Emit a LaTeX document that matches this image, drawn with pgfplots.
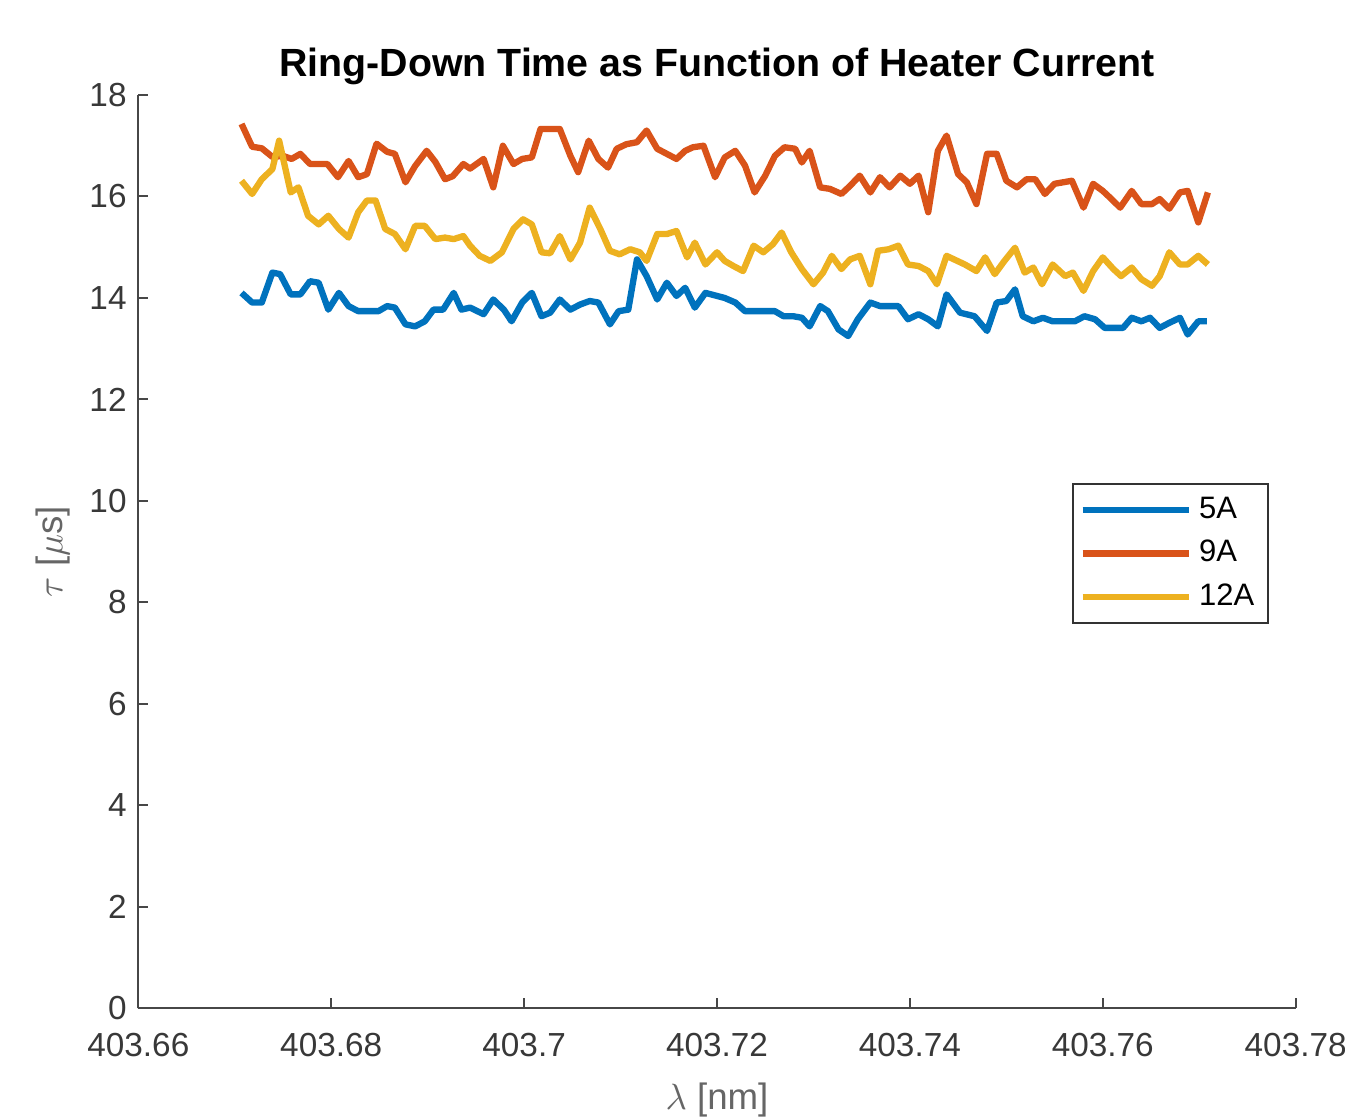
\documentclass[border=0pt]{standalone}
\usepackage{pgfplots}
\pgfplotsset{compat=1.18}
\usepackage{fontspec}
\setmainfont{Liberation Sans}
\definecolor{cA}{rgb}{0,0.447,0.741}
\definecolor{cB}{rgb}{0.85,0.325,0.098}
\definecolor{cC}{rgb}{0.929,0.694,0.125}
\definecolor{axgray}{gray}{0.28}
\begin{document}
\begin{tikzpicture}
\useasboundingbox (-41.5pt,-32.6pt) rectangle (362pt,302.5pt);
\begin{axis}[
  scale only axis, width=347.2pt, height=274pt,
  xmin=403.66, xmax=403.78, ymin=0, ymax=18,
  axis x line=bottom, axis y line=left,
  axis line style={-, axgray, line width=0.6pt},
  tick align=inside, major tick length=3pt,
  tick style={axgray, line width=0.6pt},
  xtick={403.66,403.68,403.70,403.72,403.74,403.76,403.78},
  xticklabels={403.66,403.68,403.7,403.72,403.74,403.76,403.78},
  ytick={0,2,4,6,8,10,12,14,16,18},
  ticklabel style={font=\fontsize{10}{12}\selectfont, text=black!78},
  xticklabel style={yshift=-4pt},
  /pgf/number format/assume math mode=true,
  every axis title shift=0pt,
  title={Ring-Down Time as Function of Heater Current},
  title style={font=\fontsize{11.8}{13}\selectfont\bfseries, at={(0.5,1)}, anchor=base, yshift=5.4pt},
  xlabel={$\lambda$ [nm]}, ylabel={$\tau$ [$\mu$s]},
  label style={font=\fontsize{11}{13}\selectfont, text=black!60},
  xlabel style={yshift=-1pt},
  ylabel style={yshift=-1pt},
  legend style={at={(0.8066,0.5755)}, anchor=north west, draw=black!80, line width=0.6pt,
    font=\fontsize{9.3}{11}\selectfont, inner xsep=2pt, inner ysep=2pt, row sep=1pt,
    cells={anchor=west}},
  legend image code/.code={\draw[#1, line width=1.9pt] (0pt,0pt) -- (32pt,0pt);},
  every axis plot/.append style={line width=1.9pt, line join=round},
]
\addplot[cA] coordinates {
(403.6707,14.10) (403.6718,13.91) (403.6728,13.91) (403.6739,14.50) (403.6747,14.47)
(403.6758,14.07) (403.6768,14.07) (403.6778,14.33) (403.6787,14.30) (403.6797,13.77)
(403.6808,14.10) (403.6818,13.84) (403.6828,13.74) (403.6839,13.74) (403.6849,13.74)
(403.6858,13.84) (403.6866,13.81) (403.6877,13.48) (403.6887,13.44) (403.6897,13.54)
(403.6906,13.77) (403.6916,13.77) (403.6927,14.10) (403.6935,13.77) (403.6944,13.81)
(403.6958,13.68) (403.6968,13.97) (403.6979,13.77) (403.6987,13.54) (403.6998,13.91)
(403.7008,14.10) (403.7018,13.64) (403.7027,13.71) (403.7037,13.97) (403.7048,13.77)
(403.7058,13.87) (403.7068,13.94) (403.7077,13.91) (403.7089,13.48) (403.7098,13.74)
(403.7108,13.77) (403.7117,14.76) (403.7127,14.43) (403.7138,13.97) (403.7148,14.30)
(403.7158,14.04) (403.7167,14.20) (403.7177,13.81) (403.7188,14.10) (403.7198,14.05)
(403.7208,14.00) (403.7219,13.91) (403.7229,13.74) (403.7239,13.74) (403.7250,13.74)
(403.7260,13.74) (403.7269,13.64) (403.7279,13.64) (403.7288,13.61) (403.7296,13.44)
(403.7307,13.84) (403.7315,13.74) (403.7326,13.38) (403.7336,13.25) (403.7346,13.58)
(403.7359,13.91) (403.7369,13.84) (403.7379,13.84) (403.7388,13.84) (403.7398,13.58)
(403.7409,13.68) (403.7419,13.58) (403.7429,13.44) (403.7438,14.07) (403.7452,13.71)
(403.7467,13.64) (403.7480,13.35) (403.7490,13.91) (403.7500,13.94) (403.7509,14.17)
(403.7517,13.64) (403.7528,13.54) (403.7538,13.61) (403.7548,13.54) (403.7561,13.54)
(403.7571,13.54) (403.7581,13.64) (403.7592,13.58) (403.7602,13.41) (403.7612,13.41)
(403.7621,13.41) (403.7630,13.61) (403.7640,13.54) (403.7649,13.61) (403.7659,13.41)
(403.7669,13.51) (403.7680,13.61) (403.7688,13.28) (403.7699,13.54) (403.7708,13.54)
};
\addlegendentry{5A}
\addplot[cB] coordinates {
(403.6707,17.43) (403.6718,16.98) (403.6728,16.95) (403.6739,16.78) (403.6750,16.80)
(403.6759,16.74) (403.6768,16.84) (403.6778,16.64) (403.6796,16.64) (403.6807,16.38)
(403.6818,16.70) (403.6828,16.38) (403.6837,16.44) (403.6847,17.04) (403.6858,16.88)
(403.6866,16.84) (403.6877,16.28) (403.6887,16.60) (403.6899,16.90) (403.6908,16.68)
(403.6918,16.34) (403.6926,16.40) (403.6937,16.64) (403.6944,16.55) (403.6958,16.74)
(403.6968,16.18) (403.6978,17.00) (403.6989,16.64) (403.6998,16.74) (403.7008,16.77)
(403.7017,17.33) (403.7027,17.33) (403.7037,17.33) (403.7048,16.80) (403.7056,16.48)
(403.7067,17.10) (403.7077,16.74) (403.7087,16.57) (403.7096,16.94) (403.7106,17.03)
(403.7117,17.07) (403.7127,17.30) (403.7138,16.94) (403.7148,16.84) (403.7158,16.74)
(403.7167,16.90) (403.7175,16.97) (403.7186,17.00) (403.7198,16.38) (403.7208,16.77)
(403.7219,16.90) (403.7229,16.61) (403.7239,16.08) (403.7250,16.41) (403.7260,16.80)
(403.7270,16.97) (403.7281,16.94) (403.7288,16.67) (403.7296,16.90) (403.7307,16.18)
(403.7317,16.15) (403.7329,16.05) (403.7338,16.21) (403.7348,16.41) (403.7359,16.08)
(403.7369,16.38) (403.7379,16.18) (403.7390,16.41) (403.7400,16.25) (403.7409,16.41)
(403.7419,15.69) (403.7429,16.90) (403.7438,17.20) (403.7450,16.44) (403.7459,16.28)
(403.7469,15.85) (403.7480,16.84) (403.7490,16.84) (403.7500,16.31) (403.7511,16.18)
(403.7521,16.34) (403.7530,16.34) (403.7540,16.05) (403.7550,16.25) (403.7559,16.28)
(403.7568,16.31) (403.7580,15.78) (403.7590,16.25) (403.7600,16.11) (403.7609,15.95)
(403.7618,15.78) (403.7630,16.11) (403.7640,15.85) (403.7651,15.85) (403.7659,15.95)
(403.7669,15.76) (403.7680,16.08) (403.7688,16.11) (403.7699,15.49) (403.7709,16.08)
};
\addlegendentry{9A}
\addplot[cC] coordinates {
(403.6707,16.31) (403.6718,16.05) (403.6728,16.34) (403.6739,16.54) (403.6746,17.10)
(403.6758,16.08) (403.6766,16.18) (403.6776,15.62) (403.6787,15.45) (403.6797,15.62)
(403.6808,15.36) (403.6818,15.19) (403.6828,15.69) (403.6837,15.92) (403.6846,15.92)
(403.6856,15.36) (403.6866,15.26) (403.6877,14.96) (403.6887,15.42) (403.6897,15.42)
(403.6908,15.16) (403.6918,15.19) (403.6927,15.16) (403.6937,15.22) (403.6944,15.03)
(403.6954,14.83) (403.6965,14.73) (403.6977,14.90) (403.6989,15.36) (403.6999,15.55)
(403.7008,15.45) (403.7018,14.90) (403.7027,14.88) (403.7037,15.22) (403.7048,14.76)
(403.7058,15.09) (403.7068,15.78) (403.7079,15.36) (403.7089,14.93) (403.7099,14.86)
(403.7110,14.96) (403.7120,14.90) (403.7127,14.73) (403.7138,15.26) (403.7148,15.26)
(403.7158,15.32) (403.7169,14.80) (403.7177,15.09) (403.7188,14.66) (403.7200,14.90)
(403.7208,14.73) (403.7217,14.63) (403.7227,14.53) (403.7238,15.03) (403.7248,14.90)
(403.7258,15.06) (403.7267,15.29) (403.7277,14.90) (403.7288,14.57) (403.7300,14.27)
(403.7310,14.50) (403.7319,14.83) (403.7329,14.57) (403.7338,14.76) (403.7348,14.83)
(403.7359,14.27) (403.7367,14.93) (403.7378,14.96) (403.7388,15.03) (403.7398,14.66)
(403.7409,14.63) (403.7419,14.53) (403.7428,14.27) (403.7438,14.83) (403.7457,14.66)
(403.7469,14.53) (403.7478,14.80) (403.7488,14.47) (403.7498,14.73) (403.7509,14.99)
(403.7519,14.50) (403.7528,14.60) (403.7537,14.27) (403.7548,14.66) (403.7561,14.43)
(403.7569,14.50) (403.7580,14.14) (403.7590,14.53) (403.7600,14.80) (403.7611,14.57)
(403.7619,14.43) (403.7630,14.60) (403.7640,14.37) (403.7651,14.24) (403.7659,14.43)
(403.7669,14.90) (403.7680,14.66) (403.7688,14.66) (403.7699,14.83) (403.7709,14.66)
};
\addlegendentry{12A}
\end{axis}
\end{tikzpicture}
\end{document}
